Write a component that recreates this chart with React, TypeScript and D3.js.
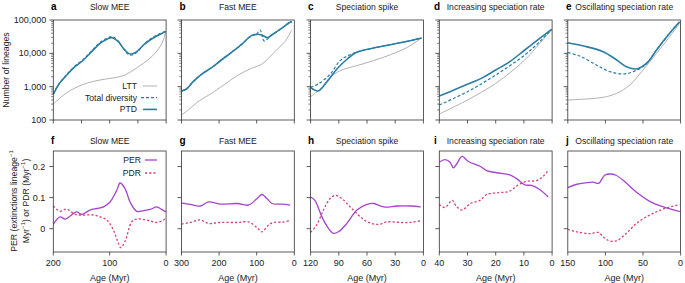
import React from 'react';
import * as d3 from 'd3';

type Pt = [number, number];

// ---------- labels / ticks ----------
const panelTitles = ['Slow MEE', 'Fast MEE', 'Speciation spike', 'Increasing speciation rate', 'Oscillating speciation rate'];
const topLetters = ['a', 'b', 'c', 'd', 'e'];
const bottomLetters = ['f', 'g', 'h', 'i', 'j'];
const maxAges = [200, 300, 120, 40, 150];
const topAgeTicks = [[200, 150, 100, 50, 0], [300, 200, 100, 0], [120, 90, 60, 30, 0], [40, 30, 20, 10, 0], [150, 100, 50, 0]];
const bottomAgeTicks = [[200, 100, 0], [300, 200, 100, 0], [120, 90, 60, 30, 0], [40, 30, 20, 10, 0], [150, 100, 50, 0]];
const lineageTicks = [100, 1000, 10000, 100000];
const lineageTickLabels = ['100', '1,000', '10,000', '100,000'];
const rateTicks = [0, 0.1, 0.2];
const rateTickLabels = ['0', '0.1', '0.2'];
const topLegendLabels = ['LTT', 'Total diversity', 'PTD'];
const bottomLegendLabels = ['PER', 'PDR'];

// ---------- top row: number of lineages (age Myr, lineages) ----------
const slowLTT: Pt[] = [[200, 302], [176, 661], [146.7, 1175], [117, 1585], [87.6, 1905], [72.8, 2239], [58, 3162], [40.2, 5012], [22.5, 8913], [10.7, 15849], [5, 25000], [0.6, 45709]];
const slowTotal: Pt[] = [[200, 600], [191, 1150], [176, 2350], [161.5, 4150], [146.7, 6600], [132, 11800], [117, 21500], [104, 29000], [97, 31600], [90, 28500], [84.6, 23000], [75.7, 13800], [66.9, 9300], [61, 8900], [52, 10700], [40, 18000], [28.4, 26500], [16.6, 35000], [4.7, 43500], [0.6, 46500]];
const slowPTD: Pt[] = [[200, 589], [191, 1122], [176, 2239], [161.5, 3981], [146.7, 6310], [132, 11220], [117, 19953], [104, 26915], [97, 29512], [90, 26303], [84.6, 22387], [75.7, 14125], [66.9, 10000], [61, 9550], [52, 11220], [40, 17783], [28.4, 25119], [16.6, 33113], [4.7, 41687], [0.6, 45709]];

const fastLTT: Pt[] = [[300, 141], [282, 200], [256, 355], [220, 631], [194, 1000], [149, 2239], [114, 3548], [87, 4677], [69, 7079], [43, 14125], [25, 22387], [7, 50119]];
const fastTotal: Pt[] = [[300, 741], [287, 851], [269, 1413], [247, 2344], [220, 3715], [194, 6310], [167, 10715], [140, 18621], [114, 33884], [100, 38000], [91, 50119], [80, 23442], [67, 30000], [60, 35481], [34, 56234], [11.5, 85114], [6, 89125]];
const fastPTD: Pt[] = [[300, 741], [287, 851], [269, 1413], [247, 2344], [220, 3715], [194, 6310], [167, 10715], [140, 18621], [114, 33884], [100, 37154], [87, 35481], [71, 29512], [60, 35481], [34, 56234], [11.5, 85114], [6, 89125]];

const spikeLTT: Pt[] = [[120, 501], [110, 851], [99, 1905], [88.6, 3020], [71, 4266], [53, 6026], [35, 9120], [17, 15136], [2, 28840]];
const spikeTotal: Pt[] = [[120, 950], [112, 1202], [99, 2399], [88.6, 6026], [78, 9120], [71, 10900], [53, 14454], [35, 18197], [17, 22909], [2, 28840]];
const spikePTD: Pt[] = [[120, 950], [112, 740], [103, 1349], [92, 3388], [81, 6761], [71, 10715], [53, 14454], [35, 18197], [17, 22909], [2, 28840]];

const incLTT: Pt[] = [[40, 151], [30, 398], [20, 1259], [9.7, 6310], [4.4, 19953], [0.2, 50119]];
const incTotal: Pt[] = [[40, 282], [30, 708], [20, 2239], [9.7, 8913], [4.4, 22387], [0.2, 52481]];
const incPTD: Pt[] = [[40, 525], [36.2, 708], [30, 1175], [24.4, 1905], [20, 3162], [15, 5623], [9.7, 12589], [4.4, 28184], [0.2, 52481]];

const oscLTT: Pt[] = [[150, 398], [125, 427], [103, 479], [85, 631], [67.5, 1122], [50, 3162], [32, 10000], [14.6, 31623], [1.3, 79433]];
const oscTotal: Pt[] = [[150, 10471], [134, 8318], [112, 4467], [94, 2818], [76, 2399], [63, 2818], [50, 3981], [43, 5623], [32, 12589], [14.6, 39811], [1.3, 89125]];
const oscPTD: Pt[] = [[150, 20893], [129, 16596], [103, 11220], [85, 6310], [72, 3981], [59, 3388], [50, 4169], [43, 5623], [32, 12589], [14.6, 39811], [1.3, 89125]];

// ---------- bottom row: rates (age Myr, rate per Myr) ----------
const slowPER: Pt[] = [[200, 0.014], [188, 0.038], [179, 0.031], [158.6, 0.054], [149.7, 0.046], [135, 0.060], [123, 0.065], [111, 0.070], [99.4, 0.086], [87.6, 0.123], [81.7, 0.147], [72.8, 0.129], [63.9, 0.086], [52, 0.056], [40, 0.058], [28, 0.062], [16.6, 0.070], [8, 0.062], [0.6, 0.054]];
const slowPDR: Pt[] = [[200, 0.073], [188, 0.056], [176, 0.063], [161.5, 0.046], [146.7, 0.044], [129, 0.044], [117, 0.038], [105, 0.028], [93.5, -0.004], [84.6, -0.047], [80.5, -0.061], [72.8, -0.041], [61, 0.022], [52, 0.031], [34.3, 0.028], [16.6, 0.020], [4.7, 0.028], [0.6, 0.033]];

const fastPER: Pt[] = [[300, 0.083], [277, 0.078], [250, 0.073], [228, 0.086], [197, 0.079], [152, 0.081], [122, 0.076], [99, 0.097], [86, 0.110], [73, 0.097], [59, 0.081], [33, 0.079], [11, 0.076]];
const fastPDR: Pt[] = [[300, 0.015], [277, 0.020], [250, 0.028], [228, 0.017], [197, 0.020], [152, 0.020], [122, 0.022], [99, 0.003], [86, -0.010], [70, 0.010], [56, 0.020], [33, 0.021], [11, 0.026]];

const spikePER: Pt[] = [[120, 0.102], [115.4, 0.091], [108, 0.038], [101, 0.001], [95.8, -0.015], [90.4, -0.010], [81.4, 0.017], [70.7, 0.060], [60, 0.078], [52.9, 0.081], [42.2, 0.070], [27.9, 0.073], [13.6, 0.073], [2.9, 0.070]];
const spikePDR: Pt[] = [[120, -0.012], [113.5, 0.012], [106.3, 0.060], [99.2, 0.097], [93.9, 0.107], [86.8, 0.097], [77.9, 0.070], [67.1, 0.038], [58.2, 0.020], [47.5, 0.014], [38.6, 0.022], [24.3, 0.020], [13.6, 0.020], [2.9, 0.026]];

const incPER: Pt[] = [[40, 0.214], [38, 0.222], [36.2, 0.214], [35, 0.196], [33.8, 0.209], [31.9, 0.233], [29.7, 0.216], [25.6, 0.201], [23.2, 0.187], [19.7, 0.180], [15, 0.173], [12.6, 0.161], [9.7, 0.141], [7.3, 0.139], [4.4, 0.126], [1.4, 0.102]];
const incPDR: Pt[] = [[40, 0.078], [38, 0.068], [35.4, 0.091], [33.8, 0.070], [31.9, 0.060], [29, 0.081], [25.6, 0.091], [23.2, 0.110], [18.5, 0.116], [15, 0.121], [12, 0.141], [9.1, 0.152], [5.5, 0.155], [3.1, 0.169], [1.4, 0.187]];

const oscPER: Pt[] = [[150, 0.132], [138, 0.143], [124, 0.148], [116, 0.150], [109, 0.146], [101, 0.172], [93, 0.176], [86, 0.172], [76, 0.155], [59, 0.118], [41, 0.088], [23, 0.070], [1, 0.055]];
const oscPDR: Pt[] = [[150, -0.002], [138, -0.010], [120.5, -0.016], [109.5, -0.012], [103, -0.026], [96, -0.038], [85.3, -0.039], [72.1, -0.015], [58.7, 0.017], [41, 0.044], [23.4, 0.063], [1.3, 0.078]];

const topSeries = [
  [slowLTT, slowTotal, slowPTD],
  [fastLTT, fastTotal, fastPTD],
  [spikeLTT, spikeTotal, spikePTD],
  [incLTT, incTotal, incPTD],
  [oscLTT, oscTotal, oscPTD],
];
const bottomSeries = [
  [slowPER, slowPDR],
  [fastPER, fastPDR],
  [spikePER, spikePDR],
  [incPER, incPDR],
  [oscPER, oscPDR],
];

// ---------- layout / style ----------
const W = 685;
const H = 283;
const panelLefts = [53.3, 181.5, 310.6, 439.3, 567.8];
const panelW = 112.8;
const topY0 = 20, topY1 = 120, botY0 = 151, botY1 = 252;
const letterX = [51, 179.5, 308, 434, 566];
const FONT = 'Liberation Sans, Arial, Helvetica, sans-serif';
const C_LTT = '#a8a8a8';
const C_PTD = '#2a7ea4';
const C_PER = '#a444cf';
const C_PDR = '#d6416f';
const C_AXIS = '#333';
const C_TEXT = '#222';

const yLog = d3.scaleLog().domain([100, 100000]).range([topY1, topY0]);
const yRate = d3.scaleLinear().domain([-0.075, 0.25]).range([botY1, botY0]);

export default function App() {
  const minorLog = yLog.ticks().filter((t) => !lineageTicks.includes(t));
  return (
    <svg width={W} height={H} style={{ position: 'absolute', left: 0, top: 0, background: '#fff' }} fontFamily={FONT}>
      {/* y-axis titles */}
      <text transform={`translate(9,70) rotate(-90)`} textAnchor="middle" fontSize={8.7} fill={C_TEXT}>Number of lineages</text>
      <text transform={`translate(16.5,201) rotate(-90)`} textAnchor="middle" fontSize={8.7} fill={C_TEXT}>
        PER (extinctions lineage<tspan dy={-3.5} fontSize={6}>−1</tspan>
      </text>
      <text transform={`translate(28.5,201) rotate(-90)`} textAnchor="middle" fontSize={8.7} fill={C_TEXT}>
        Myr<tspan dy={-3.5} fontSize={6}>−1</tspan><tspan dy={3.5}>) or PDR (Myr</tspan><tspan dy={-3.5} fontSize={6}>−1</tspan><tspan dy={3.5}>)</tspan>
      </text>

      {panelTitles.map((title, i) => {
        const x0 = panelLefts[i];
        const x1 = x0 + panelW;
        const xs = d3.scaleLinear().domain([maxAges[i], 0]).range([x0, x1]);
        const cx = (x0 + x1) / 2;
        const lineTop = d3.line<Pt>().x((d) => xs(d[0])).y((d) => yLog(d[1])).curve(d3.curveCatmullRom.alpha(0.5));
        const lineBot = d3.line<Pt>().x((d) => xs(d[0])).y((d) => yRate(d[1])).curve(d3.curveCatmullRom.alpha(0.5));
        const [ltt, total, ptd] = topSeries[i];
        const [per, pdr] = bottomSeries[i];
        return (
          <g key={i}>
            {/* titles */}
            <text x={letterX[i]} y={10} fontSize={10} fontWeight="bold" fill="#000">{topLetters[i]}</text>
            <text x={cx} y={9.5} fontSize={8.6} textAnchor="middle" fill={C_TEXT}>{title}</text>
            <text x={letterX[i]} y={144} fontSize={10} fontWeight="bold" fill="#000">{bottomLetters[i]}</text>
            <text x={cx} y={143.5} fontSize={8.6} textAnchor="middle" fill={C_TEXT}>{title}</text>

            {/* top panel */}
            <path d={lineTop(ltt) || ''} fill="none" stroke={C_LTT} strokeWidth={0.9} />
            <path d={lineTop(ptd) || ''} fill="none" stroke={C_PTD} strokeWidth={1.6} />
            <path d={lineTop(total) || ''} fill="none" stroke={C_PTD} strokeWidth={1.2} strokeDasharray="3,2" />
            <rect x={x0} y={topY0} width={panelW} height={topY1 - topY0} fill="none" stroke={C_AXIS} strokeWidth={0.8} />
            {lineageTicks.map((t) => (
              <line key={t} x1={x0 - 4} x2={x0} y1={yLog(t)} y2={yLog(t)} stroke={C_AXIS} strokeWidth={0.8} />
            ))}
            {minorLog.map((t) => (
              <line key={'m' + t} x1={x0 - 2.2} x2={x0} y1={yLog(t)} y2={yLog(t)} stroke={C_AXIS} strokeWidth={0.6} />
            ))}
            {topAgeTicks[i].map((t) => (
              <line key={'tx' + t} x1={xs(t)} x2={xs(t)} y1={topY1} y2={topY1 + 3.5} stroke={C_AXIS} strokeWidth={0.8} />
            ))}
            {i === 0 && lineageTicks.map((t, k) => (
              <text key={'l' + t} x={x0 - 7} y={yLog(t)} dy="0.35em" textAnchor="end" fontSize={9} fill={C_TEXT}>{lineageTickLabels[k]}</text>
            ))}

            {/* bottom panel */}
            <path d={lineBot(per) || ''} fill="none" stroke={C_PER} strokeWidth={1.3} />
            <path d={lineBot(pdr) || ''} fill="none" stroke={C_PDR} strokeWidth={1.3} strokeDasharray="2.2,2" />
            <rect x={x0} y={botY0} width={panelW} height={botY1 - botY0} fill="none" stroke={C_AXIS} strokeWidth={0.8} />
            {rateTicks.map((t) => (
              <line key={'r' + t} x1={x0 - 4} x2={x0} y1={yRate(t)} y2={yRate(t)} stroke={C_AXIS} strokeWidth={0.8} />
            ))}
            {i === 0 && rateTicks.map((t, k) => (
              <text key={'rl' + t} x={x0 - 8} y={yRate(t)} dy="0.35em" textAnchor="end" fontSize={9} fill={C_TEXT}>{rateTickLabels[k]}</text>
            ))}
            {bottomAgeTicks[i].map((t) => (
              <g key={'bx' + t}>
                <line x1={xs(t)} x2={xs(t)} y1={botY1} y2={botY1 + 3.5} stroke={C_AXIS} strokeWidth={0.8} />
                <text x={xs(t)} y={266} textAnchor="middle" fontSize={9} fill={C_TEXT}>{t}</text>
              </g>
            ))}
            <text x={cx} y={281} textAnchor="middle" fontSize={9} fill={C_TEXT}>Age (Myr)</text>
          </g>
        );
      })}

      {/* legend, panel a */}
      <g fontSize={8.6} fill={C_TEXT}>
        <text x={137} y={86} dy="0.35em" textAnchor="end">{topLegendLabels[0]}</text>
        <line x1={143} x2={157} y1={86} y2={86} stroke={C_LTT} strokeWidth={0.9} />
        <text x={137} y={97.7} dy="0.35em" textAnchor="end">{topLegendLabels[1]}</text>
        <line x1={141} x2={157} y1={97.7} y2={97.7} stroke={C_PTD} strokeWidth={1.2} strokeDasharray="3,2" />
        <text x={137} y={109.4} dy="0.35em" textAnchor="end">{topLegendLabels[2]}</text>
        <line x1={143} x2={157} y1={109.4} y2={109.4} stroke={C_PTD} strokeWidth={1.6} />
      </g>
      {/* legend, panel f */}
      <g fontSize={8.6} fill={C_TEXT}>
        <text x={141} y={160} dy="0.35em" textAnchor="end">{bottomLegendLabels[0]}</text>
        <line x1={145} x2={157} y1={160} y2={160} stroke={C_PER} strokeWidth={1.3} />
        <text x={141} y={173} dy="0.35em" textAnchor="end">{bottomLegendLabels[1]}</text>
        <line x1={145} x2={157} y1={173} y2={173} stroke={C_PDR} strokeWidth={1.3} strokeDasharray="2.2,2" />
      </g>
    </svg>
  );
}
